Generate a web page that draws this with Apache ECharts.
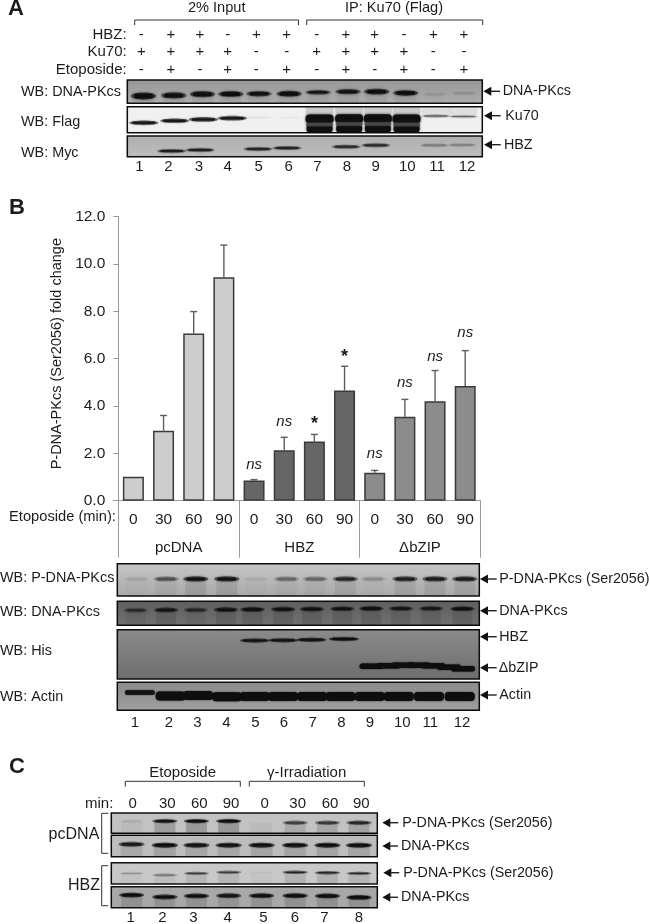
<!DOCTYPE html>
<html>
<head>
<meta charset="utf-8">
<style>html,body{margin:0;padding:0;background:#fff}#c{width:650px;height:924px;filter:blur(0.4px)}</style>
<script src="https://cdn.jsdelivr.net/npm/echarts@6/dist/echarts.min.js"></script>
</head>
<body>
<div id="c"></div>
<script>
// ---------- Panel B chart data ----------
const timeLabels = ['0','30','60','90','0','30','60','90','0','30','60','90'];
const groupLabels = ['pcDNA','HBZ','ΔbZIP'];
const barGroup = [0,0,0,0,1,1,1,1,2,2,2,2];
const foldChange = [1.01,2.96,7.06,9.44,0.85,2.13,2.5,4.66,1.18,3.55,4.2,4.85];
const errorTop = [1.01,3.6,7.99,10.8,0.89,2.68,2.8,5.68,1.28,4.28,5.5,6.34];
const significance = ['','','','','ns','ns','*','*','ns','ns','ns','ns'];
const significanceAt = [0,0,0,0,1.51,3.32,3.38,6.2,1.97,5.0,6.08,7.1];
const yTickMax = 12, yTickStep = 2;

// ---------- Panel A sign table ----------
const hbzSigns  = ['-','+','+','-','+','+','-','+','+','-','+','+'];
const ku70Signs = ['+','+','+','+','-','-','+','+','+','+','-','-'];
const etoSigns  = ['-','+','-','+','-','+','-','+','-','+','-','+'];
const laneNumbers12 = ['1','2','3','4','5','6','7','8','9','10','11','12'];
const laneNumbers8 = ['1','2','3','4','5','6','7','8'];
const minuteLabels = ['0','30','60','90','0','30','60','90'];

// ---------- Blot readings: lane position, migration (% of panel height), band intensity (0-1) ----------
const a1Lane = [1.05,2.07,3.04,4.0,4.95,5.97,6.95,7.96,8.93,9.91,10.9,11.88];
const a1Mig  = [69,66,61,60,59,59,53,50,50,56,61,57];
const a1Int  = [1,.95,.95,.95,.9,.95,.85,.9,1,1,.07,.09];
const a2Lane = [1.06,2.1,3.07,4.05,4.92,5.97,10.93,11.86];
const a2Mig  = [62,54,49,44,42,42,36,38];
const a2Int  = [.85,.85,.85,.85,.04,.02,.5,.42];
const ku70IpLane = [7,8,8.97,9.94];
const ku70IpUpperMig = [47,46,46,47];
const ku70IpMidMig = [68,67,67,68];
const ku70IpLowerMig = [84,84,84,84];
const ku70IpInt = [.97,.97,.97,.97];
const ku70IpMidInt = [.85,.85,.85,.85];
const a2HazeLane = [7,8,8.97,9.94,10.93,11.86];
const a2HazeMig = [12,12,12,12,12,12];
const a2HazeInt = [.14,.14,.14,.14,.07,.07];
const a3Lane = [2.0,2.96,4.92,5.9,7.9,8.9,10.88,11.82];
const a3Mig  = [73,68,63,58,52,45,45,44];
const a3Int  = [.75,.75,.7,.72,.68,.68,.22,.2];

const b1Lane = [1.14,2.12,3.1,4.13,5.09,6.11,7.06,8.06,8.99,10.04,11.03,12.02];
const b1Mig  = [47,47,47,47,47,47,47,47,47,47,47,47];
const b1Int  = [.07,.42,.9,.9,.05,.32,.32,.68,.16,.75,.78,.78];
const b2Lane = [1.11,2.12,3.1,4.1,4.98,6.0,6.95,7.96,8.92,9.9,10.9,11.94];
const b2Mig  = [37,36,36,35,34,33,32,31,30,30,30,31];
const b2Int  = [.5,.85,.55,.9,.95,.9,.9,.85,.95,.8,.75,.95];
const b3HbzLane = [5.06,6.0,6.94,8.01];
const b3HbzMig  = [22,21.5,20.5,19];
const b3HbzInt  = [.9,.92,.95,1];
const b3DeltaLane = [8.93,9.5,9.97,10.5,10.97,11.5,11.96];
const b3DeltaMig  = [74,73,72,72,73,76,79];
const b3DeltaInt  = [1,1,1,1,1,1,1];
const b4Lane = [1.25,2.27,3.18,4.14,5.06,6.0,6.96,7.9,8.87,9.83,10.83,11.85];
const b4Mig  = [36,49,47,52,51,51,51,51,51,51,51,51];
const b4Int  = [.82,1,1,1,1,1,1,1,1,1,1,1];

const cLane = [1.11,2.11,3.06,4.03,5.02,6.03,7.0,7.95];
const c1Mig = [40,40,40,40,48,48,48,48];
const c1Int = [.06,.85,.95,1,0,.55,.6,.72];
const c2Mig = [42,46,46,46,46,46,46,47];
const c2Int = [.8,1,.9,.9,.95,.95,.95,.95];
const c3Mig = [50,58,50,45,45,45,47,50];
const c3Int = [.16,.3,.55,.55,.02,.7,.7,.65];
const c4Mig = [40,49,44,43,43,43,44,51];
const c4Int = [1,.95,.95,.9,.95,1,1,1];

// ---------- Layout ----------
const TEXT = '#1c1c1c', AXIS = '#9a9a9a';
const FONT = '"Liberation Sans", Arial, sans-serif';
const LBL = 14.4, ARW = 14.3;
const graphics = [], grids = [], xAxes = [], yAxes = [], series = [];

function txt(x, y, text, size, align, extra) {
  graphics.push({type:'text', z:50, x, y, style:Object.assign({
    text, fill:TEXT, font:`${size}px ${FONT}`, align:align||'center', verticalAlign:'middle'}, extra||{})});
}
function lines(points, w) {
  graphics.push({type:'polyline', z:50, shape:{points}, style:{stroke:'#333', lineWidth:w||1, fill:null}});
}
function bracketDown(x0, x1, y0, y1) { lines([[x0,y1],[x0,y0],[x1,y0],[x1,y1]]); }
function bracketSide(x0, x1, y0, y1) { lines([[x1,y0],[x0,y0],[x0,y1],[x1,y1]]); }
function arrow(x0, x1, y, label, lx) {
  graphics.push({type:'polygon', z:50, shape:{points:[[x0,y],[x0+8,y-4.5],[x0+8,y+4.5]]}, style:{fill:'#111'}});
  graphics.push({type:'line', z:50, shape:{x1:x0+7,y1:y,x2:x1,y2:y}, style:{stroke:'#222', lineWidth:1.4}});
  txt(lx, y, label, ARW, 'left');
}
function bandRenderer(cfg) {
  return function (params, api) {
    const i = api.value(2);
    const c = api.coord([api.value(0), api.value(1)]);
    const idx = params.dataIndex;
    const t = Array.isArray(cfg.thick) ? cfg.thick[idx] : cfg.thick;
    const w = cfg.width;
    const cs = params.coordSys;
    const ink = cfg.ink || '14,14,14';
    const col = `rgba(${ink},${i})`;
    const kids = [];
    if (cfg.smear) {
      kids.push({type:'rect', shape:{x:c[0]-w/2+1, y:c[1], width:w-2, height:cs.y+cs.height-c[1]},
        style:{fill:`rgba(0,0,0,${cfg.smear*Math.max(i,.15)})`, shadowBlur:3, shadowColor:'rgba(0,0,0,.12)'}});
    }
    if (cfg.round === false) {
      kids.push({type:'rect', shape:{x:c[0]-w/2, y:c[1]-t/2, width:w, height:t, r:Math.min(t/2,4)},
        style:{fill:col, shadowBlur:cfg.blur==null?2.5:cfg.blur, shadowColor:col}});
    } else {
      kids.push({type:'ellipse', shape:{cx:c[0], cy:c[1], rx:w/2+1, ry:t/2+.6},
        style:{fill:`rgba(${ink},${i*.55})`, shadowBlur:cfg.blur==null?2.5:cfg.blur, shadowColor:col}});
      kids.push({type:'rect', shape:{x:c[0]-w/2+2, y:c[1]-t/2+.5, width:w-4, height:Math.max(t-1,.8), r:Math.max(t-1,.8)/2},
        style:{fill:col}});
    }
    return {type:'group', children:kids};
  };
}
function blot(left, right, top, bottom, laneCount, bg, sets) {
  const gi = grids.length, xi = xAxes.length, yi = yAxes.length;
  grids.push({left, top, width:right-left, height:bottom-top, show:true, backgroundColor:bg, borderWidth:0});
  xAxes.push({type:'value', gridIndex:gi, min:.5, max:laneCount+.5, show:false});
  yAxes.push({type:'value', gridIndex:gi, min:0, max:100, inverse:true, show:false});
  sets.forEach(s => {
    series.push({type:'custom', xAxisIndex:xi, yAxisIndex:yi, clip:true, silent:true, z:3,
      renderItem:bandRenderer(s.cfg),
      data:s.lane.map((l,k)=>[l, s.mig[k], s.int[k]])});
  });
  graphics.push({type:'rect', z:40, shape:{x:left,y:top,width:right-left,height:bottom-top},
    style:{fill:null, stroke:'#0d0d0d', lineWidth:1.5}});
}
const grad = (a,b) => ({type:'linear',x:0,y:0,x2:0,y2:1,colorStops:[{offset:0,color:a},{offset:1,color:b}]});

// ---------- Panel B bars (first grid) ----------
txt(9, 208, 'B', 22, 'left', {font:`bold 22px ${FONT}`});
const groupFill = ['#cdcdcd','#666666','#8c8c8c'];
const gl=118.3, gr=480.3, gt=216.7, gb=500.7;
grids.push({left:gl, top:gt, width:gr-gl, height:gb-gt});
xAxes.push({type:'category', gridIndex:0, data:timeLabels, position:'bottom',
  axisLine:{show:true, lineStyle:{color:AXIS, width:1}}, axisTick:{show:false},
  axisLabel:{interval:0, color:TEXT, fontFamily:FONT, fontSize:15.5, margin:11}});
xAxes.push({type:'category', gridIndex:0, data:groupLabels, position:'bottom',
  axisLine:{show:false}, axisTick:{show:true, length:57, lineStyle:{color:AXIS, width:1}},
  axisLabel:{interval:0, color:TEXT, fontFamily:FONT, fontSize:15, margin:40}});
yAxes.push({type:'value', gridIndex:0, min:0, max:yTickMax, interval:yTickStep,
  name:'P-DNA-PKcs (Ser2056) fold change', nameLocation:'middle', nameGap:52, nameRotate:90,
  nameTextStyle:{color:TEXT, fontFamily:FONT, fontSize:14.5, padding:[0,0,0,10]},
  axisLine:{show:true, lineStyle:{color:AXIS, width:1}}, axisTick:{show:true, length:5, lineStyle:{color:AXIS}},
  splitLine:{show:false},
  axisLabel:{color:TEXT, fontFamily:FONT, fontSize:15.5, margin:13, formatter:v=>v.toFixed(1)}});
const barSeries = {type:'bar', xAxisIndex:0, yAxisIndex:0, barWidth:21, z:4,
  data:foldChange.map((v,i)=>({value:v, itemStyle:{color:groupFill[barGroup[i]], borderColor:'#3a3a3a', borderWidth:1.5}}))};
const errSeries = {type:'custom', xAxisIndex:0, yAxisIndex:0, z:3, clip:false, silent:true,
  data:foldChange.map((v,i)=>[i,v,errorTop[i]]),
  renderItem(params, api){
    const a=api.coord([api.value(0),api.value(1)]), b=api.coord([api.value(0),api.value(2)]);
    if (api.value(2)<=api.value(1)) return {type:'group',children:[]};
    const st={stroke:'#5e5e5e',lineWidth:1.4};
    return {type:'group',children:[
      {type:'line',shape:{x1:a[0],y1:a[1],x2:b[0],y2:b[1]},style:st},
      {type:'line',shape:{x1:b[0]-3.5,y1:b[1],x2:b[0]+3.5,y2:b[1]},style:st}]};
  }};
const sigSeries = {type:'custom', xAxisIndex:0, yAxisIndex:0, z:5, clip:false, silent:true,
  data:significance.map((s,i)=>[i,significanceAt[i]]),
  renderItem(params, api){
    const s=significance[params.dataIndex];
    if(!s) return {type:'group',children:[]};
    const p=api.coord([api.value(0),api.value(1)]);
    const star=s==='*';
    return {type:'text',x:p[0],y:p[1]+(star?3:0),style:{text:s,fill:TEXT,align:'center',verticalAlign:'middle',
      font:star?`bold 18px ${FONT}`:`italic 15px ${FONT}`}};
  }};
series.push(barSeries, errSeries, sigSeries);
txt(9, 517, 'Etoposide (min):', 14.7, 'left');

// ---------- Panel A ----------
txt(8, 9, 'A', 22, 'left', {font:`bold 22px ${FONT}`});
txt(216.7, 8, '2% Input', 14.6);
txt(394, 8, 'IP: Ku70 (Flag)', 14.6);
bracketDown(134.7, 298.5, 20, 25);
bracketDown(306.7, 482.7, 20, 25);
const signX = [141.3,171,200,227.7,256.3,286.7,316.7,346,374.7,404,433.3,464];
[['HBZ:',35,hbzSigns],['Ku70:',52.3,ku70Signs],['Etoposide:',70,etoSigns]].forEach(([name,y,row])=>{
  txt(126.7, y, name, 15, 'right');
  row.forEach((s,i)=>txt(signX[i], y, s, 15));
});
const aL=127.3, aR=482.3;
blot(aL,aR,80,103.3,12,grad('#979797','#adadad'),[{lane:a1Lane,mig:a1Mig,int:a1Int,cfg:{thick:[6,5,5,5,4.5,5,3.5,4,4.5,4.5,3,3],width:23,smear:.05}}]);
blot(aL,aR,106.7,132.7,12,'#f0f0f0',[
  {lane:a2HazeLane,mig:a2HazeMig,int:a2HazeInt,cfg:{thick:12,width:28,blur:3,round:false}},
  {lane:ku70IpLane,mig:ku70IpUpperMig,int:ku70IpInt,cfg:{thick:9,width:28,round:false}},
  {lane:ku70IpLane,mig:ku70IpLowerMig,int:ku70IpInt,cfg:{thick:9,width:26,round:false}},
  {lane:ku70IpLane,mig:ku70IpMidMig,int:ku70IpMidInt,cfg:{thick:3.5,width:27,round:false,ink:'72,72,72',blur:1.5}},
  {lane:a2Lane,mig:a2Mig,int:a2Int,cfg:{thick:[3.5,3.5,3.5,3.5,2,2,2,2],width:27,blur:1.5}}
]);
blot(aL,aR,136,156.7,12,grad('#b0b0b0','#bcbcbc'),[{lane:a3Lane,mig:a3Mig,int:a3Int,cfg:{thick:3,width:27,blur:2}}]);
txt(21, 91.7, 'WB: DNA-PKcs', LBL, 'left');
txt(21, 121.7, 'WB: Flag', LBL, 'left');
txt(21, 152.7, 'WB: Myc', LBL, 'left');
const aNumX=[139.3,168.3,199,227.7,258.7,288.7,317.3,347,375.7,407.3,437,467];
laneNumbers12.forEach((n,i)=>txt(aNumX[i],166.7,n,15));
arrow(483.3,500,91.3,'DNA-PKcs',502.7);
arrow(484,500.7,115.7,'Ku70',505.3);
arrow(484,500.7,144.7,'HBZ',504);

// ---------- Panel B blots ----------
const bL=117.3, bR=479.3;
blot(bL,bR,563.7,596,12,grad('#c6c6c6','#a9a9a9'),[{lane:b1Lane,mig:b1Mig,int:b1Int,cfg:{thick:4,width:23,smear:.1,blur:2}}]);
blot(bL,bR,601.3,625.3,12,grad('#5f5f5f','#707070'),[{lane:b2Lane,mig:b2Mig,int:b2Int,cfg:{thick:3.5,width:22,smear:.1,blur:2}}]);
blot(bL,bR,629.7,679,12,grad('#8a8a8a','#6e6e6e'),[
  {lane:b3HbzLane,mig:b3HbzMig,int:b3HbzInt,cfg:{thick:3,width:28,blur:1.5}},
  {lane:b3DeltaLane,mig:b3DeltaMig,int:b3DeltaInt,cfg:{thick:5.5,width:24,blur:1.5,round:false}}]);
blot(bL,bR,682.3,710.3,12,grad('#8c8c8c','#9e9e9e'),[{lane:b4Lane,mig:b4Mig,int:b4Int,cfg:{thick:[5,9,9,9,9,9,9,9,9,9,9,9],width:30,blur:1.5,round:false}}]);
txt(0, 578.3, 'WB: P-DNA-PKcs', LBL, 'left');
txt(0, 611.7, 'WB: DNA-PKcs', LBL, 'left');
txt(0, 650.7, 'WB: His', LBL, 'left');
txt(0, 697.3, 'WB: Actin', LBL, 'left');
const bNumX=[135,169,197.3,226.3,255.3,284,312.7,341.3,370,402.3,430.3,462];
laneNumbers12.forEach((n,i)=>txt(bNumX[i],723.3,n,15));
arrow(480,496.7,579,'P-DNA-PKcs (Ser2056)',499.3);
arrow(480,496.7,610.7,'DNA-PKcs',499.3);
arrow(480,496.7,636.7,'HBZ',499.3);
arrow(480,496.7,667.7,'ΔbZIP',498.7);
arrow(480,496.7,695,'Actin',499.3);

// ---------- Panel C ----------
txt(9, 767, 'C', 22, 'left', {font:`bold 22px ${FONT}`});
txt(182.7, 772.7, 'Etoposide', 15);
txt(306.7, 772.7, 'γ-Irradiation', 15);
bracketDown(125.3,240.3,781.3,786.7);
bracketDown(249.3,364.3,781.3,786.7);
txt(113.3, 804, 'min:', 15, 'right');
const cMinX=[132.7,167.3,199.3,231,264.7,297.7,330,361.3];
minuteLabels.forEach((m,i)=>txt(cMinX[i],804,m,15));
const cL=111.3, cR=377.3;
blot(cL,cR,813,833.3,8,'#c2c2c2',[{lane:cLane,mig:c1Mig,int:c1Int,cfg:{thick:3.2,width:23,smear:.2,blur:1.5}}]);
blot(cL,cR,835.3,856.7,8,'#bdbdbd',[{lane:cLane,mig:c2Mig,int:c2Int,cfg:{thick:3.8,width:24,smear:.12,blur:1.5}}]);
blot(cL,cR,862.7,884,8,'#c8c8c8',[{lane:cLane,mig:c3Mig,int:c3Int,cfg:{thick:2.2,width:23,smear:.14,blur:1}}]);
blot(cL,cR,886.7,907.7,8,'#a8a8a8',[{lane:cLane,mig:c4Mig,int:c4Int,cfg:{thick:3.6,width:23,smear:.12,blur:1.5}}]);
bracketSide(101.7,108.3,813.3,853.3);
bracketSide(101.7,108.3,865.7,905.7);
txt(99.3, 835, 'pcDNA', 16, 'right');
txt(100, 886, 'HBZ', 16, 'right');
const cNumX=[130.7,162.3,193.3,227.7,263.3,295,324.3,359];
laneNumbers8.forEach((n,i)=>txt(cNumX[i],918.3,n,15));
arrow(382.3,398.3,822.7,'P-DNA-PKcs (Ser2056)',402.3);
arrow(382.3,398,846,'DNA-PKcs',401);
arrow(383.3,399.3,872.7,'P-DNA-PKcs (Ser2056)',403.3);
arrow(382.3,398,897.3,'DNA-PKcs',401);

const chart = echarts.init(document.getElementById('c'), null, {renderer:'canvas'});
chart.setOption({animation:false, backgroundColor:'#fff', textStyle:{fontFamily:FONT},
  grid:grids, xAxis:xAxes, yAxis:yAxes, series, graphic:{elements:graphics}});
</script>
</body>
</html>
